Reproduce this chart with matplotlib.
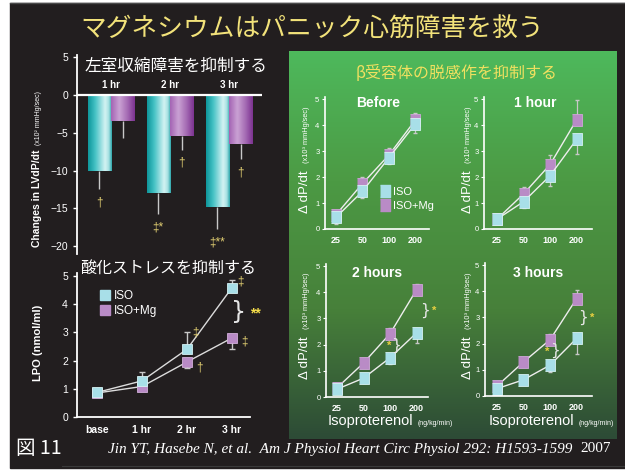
import numpy as np
import matplotlib
matplotlib.use('Agg')
import matplotlib.pyplot as plt
from matplotlib.colors import LinearSegmentedColormap
from matplotlib.lines import Line2D
from matplotlib.patches import Rectangle

plt.rcParams['font.family'] = ['Liberation Sans', 'Noto Sans CJK JP', 'DejaVu Sans']

W, H = 625, 472

# change in LV dP/dt (x10^2 mmHg/sec)
bar_groups = ['1 hr', '2 hr', '3 hr']
lv_iso = [-10.0, -13.0, -14.8]
lv_iso_err = [2.5, 2.8, 3.0]
lv_mg = [-3.5, -5.4, -6.5]
lv_mg_err = [2.2, 1.9, 2.0]
lv_iso_marks = ['†', '‡*', '‡**']
lv_mg_marks = ['', '†', '†']

# lipid peroxide (nmol/ml)
lpo_labels = ['base', '1 hr', '2 hr', '3 hr']
lpo_iso = [0.87, 1.28, 2.40, 4.58]
lpo_iso_err = [0.13, 0.32, 0.60, 0.27]
lpo_mg = [0.85, 1.08, 1.95, 2.80]
lpo_mg_err = [0.13, 0.0, 0.23, 0.40]

# dP/dt response to isoproterenol (x10^3 mmHg/sec)
doses = ['25', '50', '100', '200']
dose_titles = ['Before', '1 hour', '2 hours', '3 hours']
dp_iso = [[0.45, 1.45, 2.75, 4.05],
          [0.38, 1.05, 2.05, 3.45],
          [0.30, 0.72, 1.50, 2.45],
          [0.28, 0.62, 1.18, 2.20]]
dp_iso_err = [[0.25, 0.25, 0.25, 0.35],
              [0.05, 0.25, 0.40, 0.55],
              [0.05, 0.17, 0.25, 0.40],
              [0.00, 0.00, 0.26, 0.60]]
dp_mg = [[0.55, 1.75, 2.85, 4.20],
         [0.38, 1.35, 2.48, 4.20],
         [0.35, 1.30, 2.42, 4.10],
         [0.38, 1.30, 2.15, 3.72]]
dp_mg_err = [[0.00, 0.25, 0.27, 0.25],
             [0.00, 0.25, 0.37, 0.75],
             [0.00, 0.18, 0.20, 0.20],
             [0.00, 0.00, 0.20, 0.33]]

ISO_C = '#a8dfe8'
MG_C = '#b98bc6'
LINE_C = '#dcdcdc'
ERR_C = '#c8c8c8'
GOLD = '#e2cf72'
YELLOW = '#f2e27a'

fig = plt.figure(figsize=(W / 100, H / 100), dpi=100)
fig.patch.set_facecolor('white')


def add_ax(x0, y0, x1, y1):
    a = fig.add_axes([x0 / W, 1 - y1 / H, (x1 - x0) / W, (y1 - y0) / H])
    a.patch.set_alpha(0)
    return a


def ftext(x, y, s, **kw):
    return fig.text(x / W, 1 - y / H, s, **kw)


# slide background
bg = fig.add_axes([0, 0, 1, 1])
bg.add_patch(Rectangle((10, 3), W - 10, 465, color='#221e1f', zorder=0))
bg.plot([10, W], [3, 3], color='#4a4a4a', lw=1)
bg.plot([62, W], [466, 466], color='#3a3a3a', lw=0.8)
green = LinearSegmentedColormap.from_list('green', ['#4eb95c', '#4c9a44', '#47803a', '#2d4b36'])
bg.imshow(np.linspace(0, 1, 256).reshape(-1, 1), cmap=green, aspect='auto',
          extent=[289, 617, 439, 51], zorder=1)
bg.set_xlim(0, W)
bg.set_ylim(H, 0)
bg.axis('off')

ftext(312, 30, 'マグネシウムはパニック心筋障害を救う', color=YELLOW, fontsize=18.5,
      ha='center', va='center', family=['Noto Sans CJK JP'])

# ---- bars: LV dP/dt ----
teal = LinearSegmentedColormap.from_list('teal', [(0, '#0e979b'), (0.3, '#45c2c5'), (0.72, '#d4f3f3'),
                                                  (0.88, '#a6e0e2'), (1, '#2aa6aa')])
purple = LinearSegmentedColormap.from_list('purp', [(0, '#a464b4'), (0.35, '#caa2d4'), (0.7, '#a46ab3'),
                                                    (1, '#7c3290')])
grad = np.linspace(0, 1, 64).reshape(1, -1)

ax = add_ax(77, 55, 262, 254)
xb = np.arange(len(bar_groups))
bw = 0.39
for xs, vals, errs, marks, cm in [(xb - 0.2, lv_iso, lv_iso_err, lv_iso_marks, teal),
                                  (xb + 0.2, lv_mg, lv_mg_err, lv_mg_marks, purple)]:
    for xi, v, e, m in zip(xs, vals, errs, marks):
        ax.imshow(grad, extent=[xi - bw / 2, xi + bw / 2, v, 0], cmap=cm, aspect='auto',
                  interpolation='bicubic', zorder=2)
        ax.vlines(xi, v - e, v, color=ERR_C, lw=1, zorder=1)
        ax.text(xi, v - e - 1.7, m, color=GOLD, fontsize=8.5, ha='center', va='center')
for xi, g in zip(xb, bar_groups):
    ax.text(xi, 1.3, g, color='white', fontsize=7, fontweight='bold', ha='center', va='center')
ax.axhline(0, color='white', lw=1.6, zorder=3)
ax.set_xlim(-0.576, 2.56)
ax.set_ylim(-21.06, 5.3)
ax.set_yticks([5, 0, -5, -10, -15, -20])
ax.set_xticks([])
for s in ['top', 'right', 'bottom']:
    ax.spines[s].set_visible(False)
ax.spines['left'].set_color('white')
ax.spines['left'].set_linewidth(1.3)
ax.tick_params(axis='y', colors='white', labelsize=7.5, length=3, width=1)

ftext(176, 66, '左室収縮障害を抑制する', color='white', fontsize=12, ha='center', va='center',
      family=['Noto Sans CJK JP'])
ftext(37, 247, 'Changes in LVdP/dt', color='white', fontsize=7.5, fontweight='bold',
      rotation=90, ha='center', va='bottom')
ftext(38, 145, '(x10² mmHg/sec)', color='white', fontsize=5, rotation=90, ha='center', va='bottom')

# ---- lines: LPO ----
ax2 = add_ax(77, 273, 250, 417)
xl = np.arange(len(lpo_labels))
zero = np.zeros(len(xl))
ax2.errorbar(xl, lpo_mg, yerr=[lpo_mg_err, zero], fmt='none', ecolor=ERR_C, elinewidth=1, capsize=2)
ax2.errorbar(xl, lpo_iso, yerr=[zero, lpo_iso_err], fmt='none', ecolor=ERR_C, elinewidth=1, capsize=2)
ax2.plot(xl, lpo_mg, color=LINE_C, lw=1, marker='s', ms=6.5, mfc=MG_C, mec='#d2b0da', mew=0.6)
ax2.plot(xl, lpo_iso, color=LINE_C, lw=1, marker='s', ms=6.5, mfc=ISO_C, mec='#d6f2f4', mew=0.6)
ax2.text(3.18, 4.79, '‡', color=GOLD, fontsize=8.5, ha='center', va='center')
ax2.text(2.18, 2.98, '‡', color=GOLD, fontsize=8.5, ha='center', va='center')
ax2.text(3.27, 2.69, '‡', color=GOLD, fontsize=8.5, ha='center', va='center')
ax2.text(2.27, 1.77, '†', color=GOLD, fontsize=8.5, ha='center', va='center')
ax2.text(3.14, 3.72, '}', color='#e6e6e6', fontsize=17, ha='center', va='center', family=['DejaVu Sans'])
ax2.text(3.52, 3.68, '**', color='#f4dc4a', fontsize=10, fontweight='bold', ha='center', va='center')
ax2.set_xlim(-0.444, 3.4)
ax2.set_ylim(0, 5.1)
ax2.set_xticks(xl)
ax2.set_xticklabels(lpo_labels, fontweight='bold')
ax2.set_yticks(range(6))
for s in ['top', 'right']:
    ax2.spines[s].set_visible(False)
for s in ['left', 'bottom']:
    ax2.spines[s].set_color('white')
    ax2.spines[s].set_linewidth(1.3)
ax2.tick_params(axis='y', colors='white', labelsize=7.5, length=3, width=1)
ax2.tick_params(axis='x', colors='white', labelsize=7.5, length=0, pad=6)
handles = [Line2D([], [], ls='none', marker='s', ms=6.5, mfc=ISO_C, mec=ISO_C),
           Line2D([], [], ls='none', marker='s', ms=6.5, mfc=MG_C, mec=MG_C)]
ax2.legend(handles, ['ISO', 'ISO+Mg'], loc='upper left', bbox_to_anchor=(100 / W, 1 - 290 / H),
           bbox_transform=fig.transFigure, frameon=False, fontsize=8.5, labelcolor='white',
           handlelength=0.8, handletextpad=0.4, labelspacing=0.25, borderpad=0, borderaxespad=0)

ftext(168, 268, '酸化ストレスを抑制する', color='white', fontsize=11.5, ha='center', va='center',
      family=['Noto Sans CJK JP'])
ftext(38, 343, 'LPO (nmol/ml)', color='white', fontsize=8, fontweight='bold', rotation=90,
      ha='center', va='center')

# ---- green panel: dP/dt vs isoproterenol ----
ftext(457, 73, 'β受容体の脱感作を抑制する', color='#f0e060', fontsize=11.5, ha='center', va='center',
      family=['Noto Sans CJK JP'])

boxes = [(325, 97, 429, 229), (484, 97, 592, 229), (326, 264, 428, 397), (485, 263, 592, 396)]
xlims = [(-0.415, 3.51), (-0.49, 3.58), (-0.415, 3.43), (-0.45, 3.58)]
title_pos = [(378, 103), (535, 103), (377, 273), (538, 273)]
rect_marker = [(-0.38, -0.5), (0.38, -0.5), (0.38, 0.5), (-0.38, 0.5)]
xd = np.arange(len(doses))
for i in range(4):
    a = add_ax(*boxes[i])
    z = np.zeros(len(xd))
    a.errorbar(xd, dp_iso[i], yerr=[dp_iso_err[i], z], fmt='none', ecolor=ERR_C, elinewidth=0.9,
               capsize=1.5)
    a.errorbar(xd, dp_mg[i], yerr=[z, dp_mg_err[i]], fmt='none', ecolor=ERR_C, elinewidth=0.9,
               capsize=1.5)
    a.plot(xd, dp_mg[i], color='#eeeeee', lw=1, marker=rect_marker, ms=9, mfc=MG_C, mec='#cfa8d8', mew=0.6)
    a.plot(xd, dp_iso[i], color='#eeeeee', lw=1, marker=rect_marker, ms=9, mfc=ISO_C, mec='#d6f2f4', mew=0.6)
    a.set_xlim(*xlims[i])
    a.set_ylim(0, 5.08)
    a.set_xticks(xd)
    a.set_xticklabels(doses, fontweight='bold')
    a.set_yticks(range(6))
    for s in ['top', 'right']:
        a.spines[s].set_visible(False)
    for s in ['left', 'bottom']:
        a.spines[s].set_color('white')
        a.spines[s].set_linewidth(1.2)
    a.tick_params(axis='y', colors='white', labelsize=5.5, length=2, width=0.8, pad=2)
    a.tick_params(axis='x', colors='white', labelsize=6.5, length=0, pad=5)
    tx, ty = title_pos[i]
    ftext(tx, ty, dose_titles[i], color='white', fontsize=10, fontweight='bold', ha='center', va='center')

    if i == 0:
        lh = [Line2D([], [], ls='none', marker=rect_marker, ms=9, mfc=ISO_C, mec=ISO_C),
              Line2D([], [], ls='none', marker=rect_marker, ms=9, mfc=MG_C, mec=MG_C)]
        a.legend(lh, ['ISO', 'ISO+Mg'], loc='upper left', bbox_to_anchor=(382 / W, 1 - 187 / H),
                 bbox_transform=fig.transFigure, frameon=False, fontsize=8, labelcolor='white',
                 handlelength=0.6, handletextpad=0.4, labelspacing=0.35, borderpad=0, borderaxespad=0)
    if i == 2:
        a.text(3.3, 3.3, '}', color='#e6e6e6', fontsize=11, ha='center', va='center', family=['DejaVu Sans'])
        a.text(3.65, 3.28, '*', color='#e8d040', fontsize=8, fontweight='bold', ha='center', va='center')
        a.text(2.22, 1.98, '}', color='#e6e6e6', fontsize=11, ha='center', va='center', family=['DejaVu Sans'])
        a.text(1.95, 1.95, '*', color='#e8d040', fontsize=8, fontweight='bold', ha='center', va='center')
    if i == 3:
        a.text(3.25, 3.0, '}', color='#e6e6e6', fontsize=11, ha='center', va='center', family=['DejaVu Sans'])
        a.text(3.6, 3.0, '*', color='#e8d040', fontsize=8, fontweight='bold', ha='center', va='center')
        a.text(2.2, 1.76, '}', color='#e6e6e6', fontsize=11, ha='center', va='center', family=['DejaVu Sans'])
        a.text(1.9, 1.68, '*', color='#e8d040', fontsize=8, fontweight='bold', ha='center', va='center')

# axis titles of the four small plots
for lx, base in [(305, 213), (468, 213), (305, 379), (468, 379)]:
    ftext(lx, base, 'Δ dP/dt', color='white', fontsize=9.5, rotation=90, ha='center', va='bottom')
    ftext(lx + 1, base - 50, '(x10³ mmHg/sec)', color='white', fontsize=5.3, rotation=90,
          ha='center', va='bottom')
for lx in [328, 489]:
    ftext(lx, 425, 'Isoproterenol', color='white', fontsize=10.5, ha='left', va='baseline')
    ftext(lx + 90, 425, '(ng/kg/min)', color='white', fontsize=5, ha='left', va='baseline')

# footer
ftext(16, 449, '図 11', color='white', fontsize=14, ha='left', va='center', family=['Noto Sans CJK JP'])
ftext(108, 449, 'Jin YT, Hasebe N, et al.  Am J Physiol Heart Circ Physiol 292: H1593-1599',
      color='white', fontsize=11, style='italic', family=['Liberation Serif'], ha='left', va='center')
ftext(580, 449, '2007', color='white', fontsize=11, family=['Liberation Serif'], ha='left', va='center')

fig.savefig('out.png', dpi=100, facecolor=fig.get_facecolor())
